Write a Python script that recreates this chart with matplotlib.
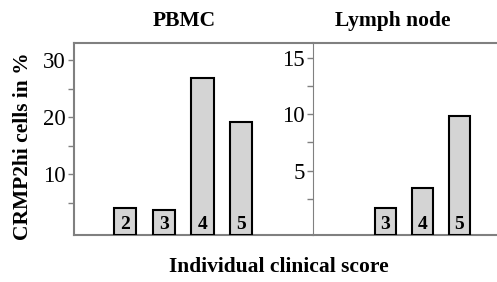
#!/usr/bin/env python3
"""Porcentaje de células CRMP2hi según score clínico individual (PBMC / ganglio)."""

import matplotlib
matplotlib.use("Agg")
import matplotlib.pyplot as plt
import numpy as np

pbmc_scores = ["2", "3", "4", "5"]
pbmc_values = [4.0, 3.7, 26.8, 19.1]

lymph_scores = ["3", "4", "5"]
lymph_values = [1.7, 3.5, 9.8]

plt.rcParams["font.family"] = ["Liberation Serif", "DejaVu Serif"]

GREY = "#808080"
FILL = "#d4d4d4"


def draw_panel(ax, scores, values, ylim, xlim, major, minor):
    lo = ylim[0]
    x = np.arange(len(scores))
    vals = np.array(values)
    ax.bar(x, vals - lo, bottom=lo, width=0.57, color=FILL,
           edgecolor="black", linewidth=1.5, zorder=3)
    for xi, s in zip(x, scores):
        ax.annotate(s, xy=(xi, lo), xytext=(0, 1.5), textcoords="offset points",
                    ha="center", va="bottom", fontsize=14, fontweight="bold",
                    zorder=4)
    ax.set_ylim(*ylim)
    ax.set_xlim(*xlim)
    ax.set_xticks([])
    ax.set_yticks(major)
    ax.set_yticks(minor, minor=True)
    ax.tick_params(axis="y", which="both", direction="out", length=4,
                   width=1, color=GREY, labelsize=16.5, pad=2)
    ax.spines["right"].set_visible(False)
    for s in ("top", "bottom"):
        ax.spines[s].set_color(GREY)
        ax.spines[s].set_linewidth(1.5)


fig = plt.figure(figsize=(4.97, 2.82), dpi=100)
ax1 = fig.add_axes([0.149, 0.1667, 0.481, 0.681])
ax2 = fig.add_axes([0.630, 0.1667, 0.370, 0.681])

draw_panel(ax1, pbmc_scores, pbmc_values, (-0.7, 33.0), (-1.32, 4.86),
           [10, 20, 30], [5, 15, 25])
ax1.spines["left"].set_color(GREY)
ax1.spines["left"].set_linewidth(1.5)

draw_panel(ax2, lymph_scores, lymph_values, (-0.7, 16.3), (-1.95, 3.02),
           [5, 10, 15], [2.5, 7.5, 12.5])
ax2.spines["left"].set_color(GREY)
ax2.spines["left"].set_linewidth(0.8)

fig.text(184 / 497, 1 - 21 / 282, "PBMC", ha="center", va="center",
         fontsize=15.5, fontweight="bold")
fig.text(393 / 497, 1 - 21 / 282, "Lymph node", ha="center", va="center",
         fontsize=15.5, fontweight="bold")
fig.text(279 / 497, 1 - 267 / 282, "Individual clinical score", ha="center",
         va="center", fontsize=15.5, fontweight="bold")
fig.text(23 / 497, 1 - 146 / 282, "CRMP2hi cells in %", ha="center",
         va="center", rotation=90, fontsize=15.5, fontweight="bold")

fig.savefig("out.png", dpi=100)
plt.close(fig)
